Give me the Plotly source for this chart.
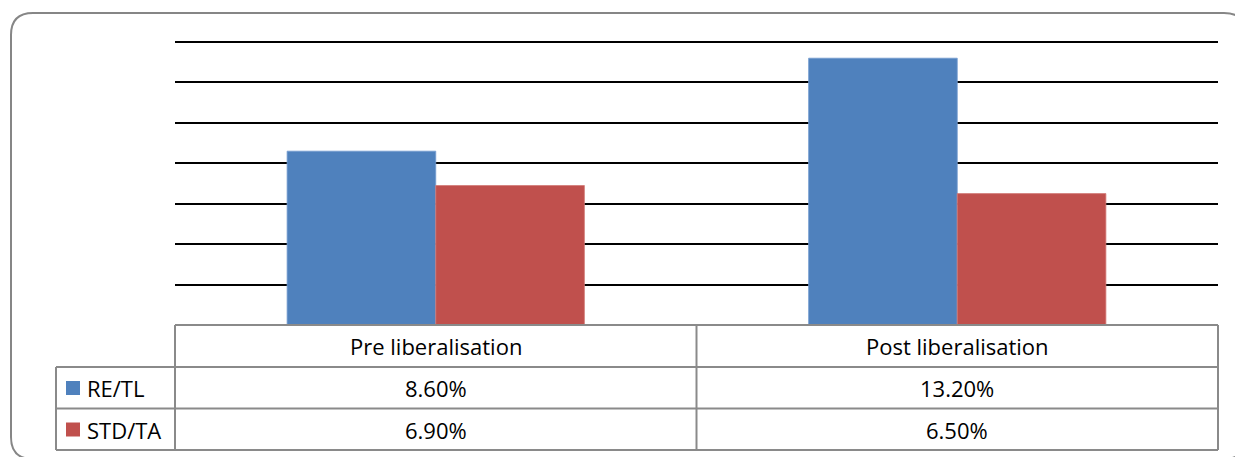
import plotly.graph_objects as go

categories = ["Pre liberalisation", "Post liberalisation"]
series_names = ["RE/TL", "STD/TA"]
re_tl = [8.6, 13.2]
std_ta = [6.9, 6.5]
colors = ["#4F81BD", "#C0504D"]
edge_colors = ["#739CD0", "#D27A77"]

W, H = 1235, 457
L, R, T, B = 175, 17, 40, 132
PW, PH = W - L - R, H - T - B

def px(x):
    return (x - L) / PW

def py(y):
    return (H - B - y) / PH

FONT = "Open Sans"
FS = 22
GRID = "#8A8A8A"

fig = go.Figure()
for name, vals, c, ec in zip(series_names, [re_tl, std_ta], colors, edge_colors):
    fig.add_trace(go.Bar(x=categories, y=vals, name=name, marker_color=c,
                         marker_line=dict(width=0.8, color=ec), showlegend=False,
                         hoverinfo="skip"))

shapes = []
def hline(y, x0, x1):
    shapes.append(dict(type="line", xref="paper", yref="paper", x0=px(x0), x1=px(x1),
                       y0=py(y), y1=py(y), line=dict(color=GRID, width=2)))
def vline(x, y0, y1):
    shapes.append(dict(type="line", xref="paper", yref="paper", x0=px(x), x1=px(x),
                       y0=py(y0), y1=py(y1), line=dict(color=GRID, width=2)))

hline(325, 175, 1218)
hline(367, 56, 1218)
hline(408.5, 56, 1218)
hline(450, 56, 1218)
vline(56, 367, 450)
vline(175, 325, 450)
vline(696.5, 325, 450)
vline(1218, 325, 450)

row_centers = [388, 429.5]
for yc, c in zip(row_centers, colors):
    shapes.append(dict(type="rect", xref="paper", yref="paper", x0=px(66), x1=px(80),
                       y0=py(yc - 7), y1=py(yc + 7), fillcolor=c, line=dict(width=0)))

x0b, y0b, x1b, y1b, r = 11, 13, 1246, 459, 22
path = (f"M {px(x0b)},{py(y0b + r)} "
        f"Q {px(x0b)},{py(y0b)} {px(x0b + r)},{py(y0b)} "
        f"L {px(x1b - r)},{py(y0b)} "
        f"Q {px(x1b)},{py(y0b)} {px(x1b)},{py(y0b + r)} "
        f"L {px(x1b)},{py(y1b - r)} "
        f"Q {px(x1b)},{py(y1b)} {px(x1b - r)},{py(y1b)} "
        f"L {px(x0b + r)},{py(y1b)} "
        f"Q {px(x0b)},{py(y1b)} {px(x0b)},{py(y1b - r)} Z")
shapes.append(dict(type="path", xref="paper", yref="paper", path=path,
                   line=dict(color="#868686", width=2)))

annotations = []
for cat in categories:
    annotations.append(dict(x=cat, xref="x", y=py(346), yref="paper", text=cat,
                            showarrow=False, font=dict(family=FONT, size=FS, color="#000"),
                            xanchor="center", yanchor="middle"))
for name, vals, yc in zip(series_names, [re_tl, std_ta], row_centers):
    annotations.append(dict(x=px(85), xref="paper", y=py(yc), yref="paper", text=name,
                            showarrow=False, font=dict(family=FONT, size=FS, color="#000"),
                            xanchor="left", yanchor="middle"))
    for cat, v in zip(categories, vals):
        annotations.append(dict(x=cat, xref="x", y=py(yc), yref="paper", text=f"{v:.2f}%",
                                showarrow=False, font=dict(family=FONT, size=FS, color="#000"),
                                xanchor="center", yanchor="middle"))

fig.update_layout(
    width=W, height=H,
    margin=dict(l=L, r=R, t=T, b=B, pad=0),
    paper_bgcolor="white", plot_bgcolor="white",
    barmode="group", bargap=0.43, bargroupgap=0,
    shapes=shapes, annotations=annotations,
    font=dict(family=FONT, size=FS),
    showlegend=False,
)
fig.update_xaxes(showticklabels=False, showgrid=False, zeroline=False, showline=False, ticks="")
fig.update_yaxes(range=[0, 14.1], dtick=2, showticklabels=False, showgrid=True,
                 gridcolor="#000000", gridwidth=2, zeroline=False, showline=False, ticks="")

fig.write_html("out.html", config={"displayModeBar": False},
               post_script="document.body.style.margin='0';")
